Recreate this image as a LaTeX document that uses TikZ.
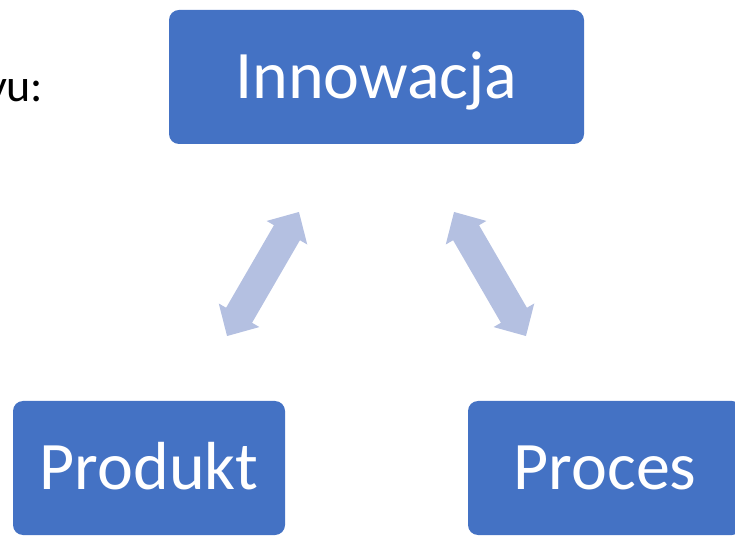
\documentclass[tikz,border=0pt]{standalone}
\usepackage{fontspec}
\setmainfont{Carlito}
\definecolor{boxblue}{HTML}{4472C4}
\definecolor{arrowblue}{HTML}{B4C0E1}
\tikzset{
  mainbox/.style={fill=boxblue, draw=none, rounded corners=10pt, text=white,
    font=\fontsize{68}{68}\selectfont, inner sep=0pt, text height=43pt, text depth=0pt,
    minimum height=134pt},
  arrowfill/.style={fill=arrowblue, draw=none}
}
\newcommand{\dblockarrow}[2]{%
  \begin{scope}[shift={#1}, rotate=#2]
    \fill[arrowfill] (71.7,0) -- (47.7,23.5) -- (47.7,15) -- (-47.7,15) -- (-47.7,23.5)
      -- (-71.7,0) -- (-47.7,-23.5) -- (-47.7,-15) -- (47.7,-15) -- (47.7,-23.5) -- cycle;
  \end{scope}}
\begin{document}
\begin{tikzpicture}[x=1pt,y=1pt]
\useasboundingbox (0,0) rectangle (735,535);
\node[mainbox, minimum width=415pt] (innow) at (376.5,458) {Innowacja};
\node[mainbox, minimum width=272pt] (prod) at (149,67) {Produkt};
\node[mainbox, minimum width=274pt] (proc) at (605,67) {Proces};
\node[anchor=base east, font=\fontsize{46}{46}\selectfont, inner sep=0pt] (lead) at (43.5,433) {yu:};
\dblockarrow{(263,261)}{59.9}
\dblockarrow{(490,261)}{-59.9}
\end{tikzpicture}
\end{document}
